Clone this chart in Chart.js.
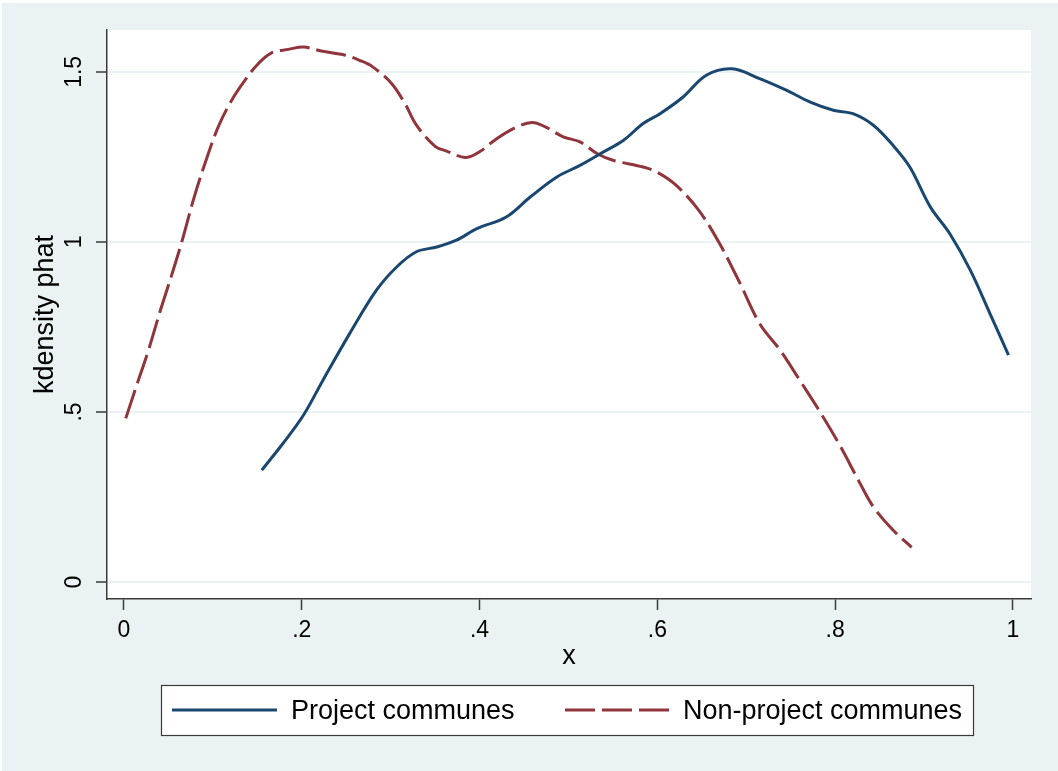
<!DOCTYPE html>
<html>
<head>
<meta charset="utf-8">
<script src="https://cdn.jsdelivr.net/npm/chart.js@4.4.1/dist/chart.umd.min.js"></script>
<style>
  html, body { margin: 0; padding: 0; background: #fff; }
  #wrap { width: 1058px; height: 771px; }
</style>
</head>
<body>
<div id="wrap"><canvas id="chart" width="1058" height="771"></canvas></div>
<script>
// kdensity estimates
const projectX = [0.155, 0.179, 0.202, 0.224, 0.254, 0.284, 0.307, 0.329, 0.352, 0.374, 0.397, 0.430, 0.457, 0.487, 0.513, 0.539, 0.562, 0.584, 0.603, 0.629, 0.655, 0.684, 0.715, 0.745, 0.772, 0.798, 0.820, 0.843, 0.865, 0.884, 0.907, 0.929, 0.952, 0.974, 0.995];
const projectY = [0.329, 0.408, 0.491, 0.594, 0.731, 0.858, 0.927, 0.971, 0.985, 1.005, 1.039, 1.073, 1.132, 1.191, 1.225, 1.264, 1.299, 1.348, 1.377, 1.426, 1.490, 1.509, 1.480, 1.446, 1.411, 1.387, 1.377, 1.343, 1.284, 1.220, 1.103, 1.024, 0.917, 0.790, 0.667];

const nonProjectX = [0.002, 0.015, 0.027, 0.041, 0.053, 0.065, 0.078, 0.091, 0.106, 0.121, 0.136, 0.151, 0.166, 0.185, 0.202, 0.222, 0.249, 0.265, 0.279, 0.301, 0.316, 0.329, 0.350, 0.363, 0.384, 0.400, 0.417, 0.438, 0.459, 0.474, 0.494, 0.513, 0.532, 0.550, 0.584, 0.599, 0.620, 0.646, 0.670, 0.693, 0.715, 0.738, 0.760, 0.783, 0.805, 0.828, 0.843, 0.865, 0.886];
const nonProjectY = [0.481, 0.584, 0.677, 0.799, 0.897, 1.000, 1.123, 1.230, 1.338, 1.416, 1.475, 1.524, 1.556, 1.566, 1.573, 1.561, 1.549, 1.534, 1.516, 1.466, 1.407, 1.343, 1.281, 1.267, 1.248, 1.265, 1.299, 1.333, 1.351, 1.338, 1.309, 1.294, 1.260, 1.240, 1.220, 1.206, 1.169, 1.095, 0.995, 0.878, 0.760, 0.682, 0.594, 0.500, 0.403, 0.290, 0.221, 0.153, 0.102];

const xTicks = [0, 0.2, 0.4, 0.6, 0.8, 1];
const xTickLabels = ['0', '.2', '.4', '.6', '.8', '1'];
const yTicks = [0, 0.5, 1, 1.5];
const yTickLabels = ['0', '.5', '1', '1.5'];

const seriesLabels = ['Project communes', 'Non-project communes'];

const FONT = '"Liberation Sans", Arial, sans-serif';
const BG = '#EAF2F3';
const AXIS = '#3a3a3a';

Chart.defaults.font.family = FONT;
Chart.defaults.color = '#000';

function toPoints(xs, ys) {
  return xs.map((x, i) => ({ x: x, y: ys[i] }));
}

// фон графика и белая область построения
const backgroundPlugin = {
  id: 'stataBackground',
  beforeDraw(chart) {
    const { ctx, width, height, chartArea } = chart;
    ctx.save();
    ctx.fillStyle = '#fff';
    ctx.fillRect(0, 0, width, height);
    ctx.fillStyle = BG;
    ctx.fillRect(2, 3, width - 2, height - 3);
    ctx.fillStyle = '#fff';
    ctx.fillRect(chartArea.left, chartArea.top, chartArea.right - chartArea.left, chartArea.bottom - chartArea.top);
    ctx.restore();
  },
};

// легенда в рамке под осью
const legendBoxPlugin = {
  id: 'legendBox',
  afterDraw(chart) {
    const ctx = chart.ctx;
    ctx.save();
    ctx.fillStyle = '#fff';
    ctx.fillRect(161.5, 685.5, 812, 50);
    ctx.strokeStyle = AXIS;
    ctx.lineWidth = 1.2;
    ctx.strokeRect(161.5, 685.5, 812, 50);
    const slots = [
      { x0: 172, x1: 277, tx: 291 },
      { x0: 565, x1: 670, tx: 683 },
    ];
    chart.data.datasets.forEach((ds, i) => {
      const s = slots[i];
      ctx.beginPath();
      ctx.setLineDash(ds.borderDash || []);
      ctx.strokeStyle = ds.borderColor;
      ctx.lineWidth = ds.borderWidth;
      ctx.moveTo(s.x0, 710);
      ctx.lineTo(s.x1, 710);
      ctx.stroke();
      ctx.setLineDash([]);
      ctx.fillStyle = '#000';
      ctx.font = '27px ' + FONT;
      ctx.textBaseline = 'middle';
      ctx.textAlign = 'left';
      ctx.fillText(ds.label, s.tx, 711.5);
    });
    ctx.restore();
  },
};

const ctx = document.getElementById('chart').getContext('2d');
new Chart(ctx, {
  type: 'line',
  data: {
    datasets: [
      {
        label: seriesLabels[0],
        data: toPoints(projectX, projectY),
        borderColor: '#1A476F',
        backgroundColor: '#1A476F',
        borderWidth: 3,
        pointRadius: 0,
        tension: 0.35,
        fill: false,
      },
      {
        label: seriesLabels[1],
        data: toPoints(nonProjectX, nonProjectY),
        borderColor: '#90353B',
        backgroundColor: '#90353B',
        borderWidth: 3,
        borderDash: [30, 7],
        pointRadius: 0,
        tension: 0.35,
        fill: false,
      },
    ],
  },
  options: {
    responsive: false,
    animation: false,
    devicePixelRatio: 1,
    layout: { padding: { top: 30, right: 27, left: 0, bottom: 0 } },
    plugins: {
      legend: { display: false },
      tooltip: { enabled: false },
      title: { display: false },
    },
    scales: {
      x: {
        type: 'linear',
        min: -0.0191,
        max: 1.0203,
        afterBuildTicks: (scale) => { scale.ticks = xTicks.map((v) => ({ value: v })); },
        afterFit: (scale) => { scale.height = 172; },
        grid: { drawOnChartArea: false, drawTicks: true, tickLength: 11, tickColor: AXIS, tickWidth: 1.5 },
        border: { display: true, color: AXIS, width: 1.5 },
        ticks: {
          maxRotation: 0,
          minRotation: 0,
          padding: 7,
          font: { size: 23 },
          color: '#000',
          callback: (value, index) => xTickLabels[index],
        },
        title: {
          display: true,
          text: 'x',
          font: { size: 27 },
          color: '#000',
          padding: { top: 0, bottom: 98.6 },
        },
      },
      y: {
        type: 'linear',
        min: -0.05,
        max: 1.623,
        afterBuildTicks: (scale) => { scale.ticks = yTicks.map((v) => ({ value: v })); },
        afterFit: (scale) => { scale.width = 107; },
        grid: { color: BG, lineWidth: 2, drawTicks: true, tickLength: 11, tickColor: AXIS, tickWidth: 1.5 },
        border: { display: true, color: AXIS, width: 1.5 },
        ticks: {
          minRotation: 90,
          maxRotation: 90,
          crossAlign: 'center',
          padding: 5,
          font: { size: 23 },
          color: '#000',
          callback: (value, index) => yTickLabels[index],
        },
        title: {
          display: true,
          text: 'kdensity phat',
          font: { size: 27 },
          color: '#000',
          padding: { top: 29.4, bottom: 0 },
        },
      },
    },
  },
  plugins: [backgroundPlugin, legendBoxPlugin],
});
</script>
</body>
</html>
